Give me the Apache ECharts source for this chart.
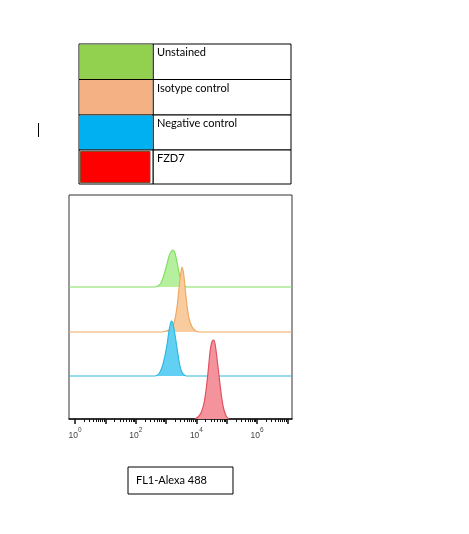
<!DOCTYPE html>
<html>
<head>
<meta charset="utf-8">
<script src="https://cdn.jsdelivr.net/npm/echarts@6/dist/echarts.min.js"></script>
<style>html,body{margin:0;padding:0;background:#fff;}#c{width:469px;height:534px;}</style>
</head>
<body>
<div id="c"></div>
<script>
// ---- data (x = log10 fluorescence, y = relative count) ----
const seriesNames = ['Unstained', 'Isotype control', 'Negative control', 'FZD7'];
const unstained = [[2.62,0],[2.73,1],[2.83,4],[2.93,12],[3.02,22],[3.10,31],[3.18,36],[3.23,37],[3.29,34],[3.36,25],[3.43,14],[3.50,6],[3.58,2],[3.68,0]];
const isotype = [[2.85,0],[3.00,1],[3.15,3],[3.27,10],[3.36,25],[3.43,45],[3.49,60],[3.53,65],[3.58,58],[3.64,40],[3.70,24],[3.76,13],[3.84,6],[3.94,2],[4.08,0]];
const negative = [[2.62,0],[2.72,1],[2.80,4],[2.88,10],[2.96,20],[3.04,33],[3.10,46],[3.16,54],[3.19,55],[3.24,50],[3.31,38],[3.38,24],[3.45,11],[3.52,4],[3.60,1],[3.68,0]];
const fzd7 = [[3.95,0],[4.05,2],[4.15,6],[4.25,16],[4.33,32],[4.40,52],[4.46,70],[4.52,78],[4.57,79],[4.62,74],[4.68,60],[4.75,42],[4.82,24],[4.90,10],[4.98,3],[5.06,0]];
const decadeTicks = [0, 1, 2, 3, 4, 5, 6, 7];
const decadeLabels = [0, 2, 4, 6];
const axisTitle = 'FL1-Alexa 488';

// ---- style ----
const X_MIN = -0.2, X_MAX = 7.15;
const offsets = [132, 87, 43, 0];
const lineColors = ['#7fe060', '#f0a860', '#30b8e0', '#e05060'];
const fillColors = ['#b6f09e', '#f8cc9e', '#62d0f2', '#f4939b'];
const swatchColors = ['#92d050', '#f4b183', '#00b0f0', '#ff0000'];
const allData = [unstained, isotype, negative, fzd7];

const minorTicks = [];
for (let k = 0; k < 7; k++) for (let m = 2; m <= 9; m++) minorTicks.push(k + Math.log10(m));

const series = allData.map((d, i) => {
  const pts = d.map(p => [p[0], p[1] + offsets[i]]);
  if (offsets[i] > 0) { pts.unshift([X_MIN, offsets[i]]); pts.push([X_MAX, offsets[i]]); }
  return {
    name: seriesNames[i], type: 'line', xAxisIndex: 0, yAxisIndex: 0,
    data: pts, smooth: 0.3, symbol: 'none', silent: true,
    lineStyle: { color: lineColors[i], width: 1.2 },
    areaStyle: { color: fillColors[i], opacity: 1, origin: offsets[i] },
    z: 2 + i
  };
});

// legend table
const L = { x: 79, y: 44, w: 212, colX: 153, rows: [44, 79.5, 115, 150, 184] };
const g = [];
seriesNames.forEach((n, i) => {
  const y0 = L.rows[i], y1 = L.rows[i + 1];
  g.push({ type: 'rect', shape: { x: L.colX, y: y0, width: L.x + L.w - L.colX, height: y1 - y0 }, style: { fill: '#fff', stroke: '#000', lineWidth: 1 } });
  g.push({ type: 'rect', shape: { x: L.x, y: y0, width: L.colX - L.x, height: y1 - y0 }, style: { fill: '#fff', stroke: '#000', lineWidth: 1 } });
  const inset = i === 3 ? 1.5 : 0.5;
  g.push({ type: 'rect', shape: { x: L.x + inset, y: y0 + inset, width: L.colX - L.x - 2 * inset - (i === 3 ? 1.5 : 0), height: y1 - y0 - 2 * inset }, style: { fill: swatchColors[i], stroke: i === 3 ? '#8a4a2a' : null, lineWidth: 1 } });
  g.push({ type: 'text', x: L.colX + 4, y: y0 + 3, style: { text: n, fill: '#000', font: '11px Lato, "Liberation Sans", sans-serif', textVerticalAlign: 'top' } });
});
g.push({ type: 'line', shape: { x1: 38.5, y1: 123, x2: 38.5, y2: 137 }, style: { stroke: '#000', lineWidth: 1 } });

const chart = echarts.init(document.getElementById('c'), null, { renderer: 'canvas' });
chart.setOption({
  animation: false,
  backgroundColor: '#fff',
  grid: { left: 69, top: 195, right: 177, bottom: 115, show: true, borderColor: '#333', borderWidth: 1, containLabel: false },
  xAxis: [{
    type: 'value', min: X_MIN, max: X_MAX, position: 'bottom',
    splitLine: { show: false },
    axisLine: { show: true, onZero: false, lineStyle: { color: '#111', width: 1.5 } },
    axisTick: { show: true, inside: false, length: 5, customValues: decadeTicks, lineStyle: { color: '#111', width: 1.5 } },
    axisLabel: {
      customValues: decadeLabels, margin: 8, color: '#444',
      formatter: v => '{b|10}{s|' + v + '}',
      rich: {
        b: { fontSize: 8.5, fontFamily: 'Liberation Sans', color: '#444', lineHeight: 13, verticalAlign: 'bottom' },
        s: { fontSize: 6.5, fontFamily: 'Liberation Sans', color: '#444', lineHeight: 13, verticalAlign: 'top' }
      }
    },
    name: axisTitle, nameLocation: 'middle', nameGap: 48,
    nameTextStyle: { fontSize: 11, fontFamily: 'Lato, "Liberation Sans", sans-serif', color: '#000', borderColor: '#000', borderWidth: 1, align: 'center', padding: [7, 26, 7, 8], lineHeight: 13 }
  }, {
    type: 'value', min: X_MIN, max: X_MAX, position: 'bottom', offset: 0,
    splitLine: { show: false }, axisLine: { show: false },
    axisTick: { show: true, inside: false, length: 3, customValues: minorTicks, lineStyle: { color: '#111' } },
    axisLabel: { show: false }
  }],
  yAxis: { type: 'value', min: 0, max: 224, show: false, splitLine: { show: false } },
  series: series,
  graphic: g
});
</script>
</body>
</html>
